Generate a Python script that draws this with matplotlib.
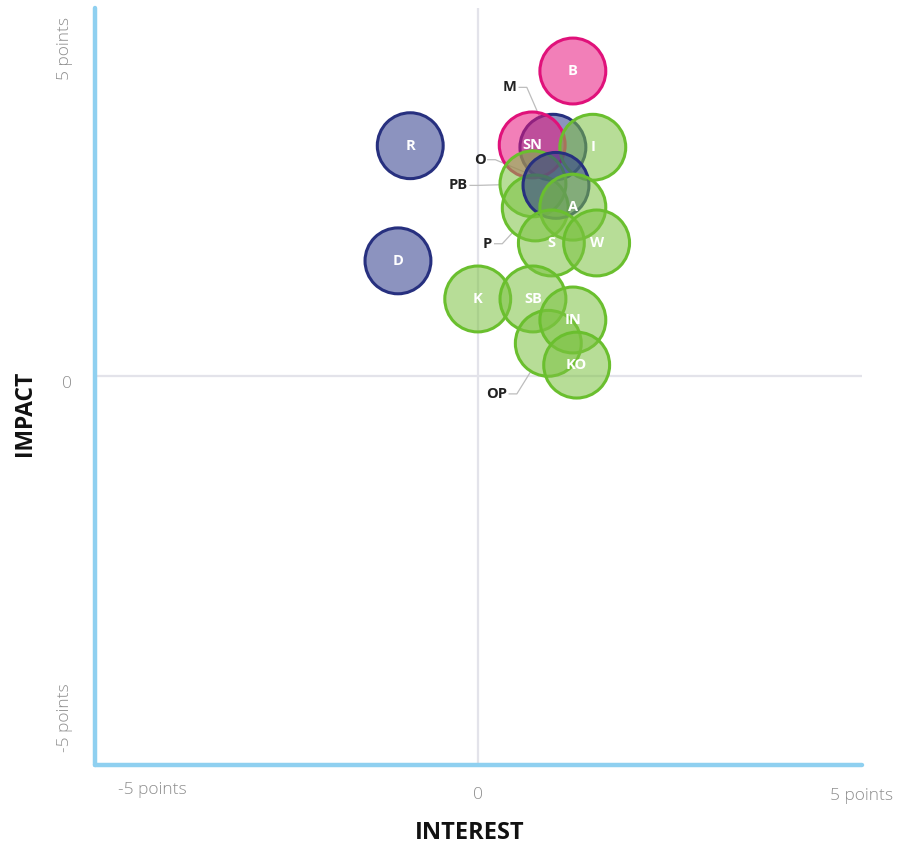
import numpy as np
import matplotlib
matplotlib.use("Agg")
import matplotlib.pyplot as plt

# bubble data (interest, impact)
names = ["R", "D", "B", "M", "SN", "I", "PB", "P", "O", "A", "S", "W", "K", "SB", "OP", "IN", "KO"]
interest = [-0.89, -1.05, 1.23, 0.97, 0.70, 1.49, 0.71, 0.74, 1.01, 1.23, 0.95, 1.54, -0.01, 0.71, 0.91, 1.23, 1.28]
impact = [2.96, 1.48, 3.92, 2.94, 2.97, 2.94, 2.47, 2.16, 2.45, 2.17, 1.71, 1.71, 0.99, 0.99, 0.42, 0.72, 0.14]
groups = ["navy", "navy", "pink", "navy", "pink", "green", "green", "green", "navy", "green",
          "green", "green", "green", "green", "green", "green", "green"]

# labels drawn outside the bubble with a leader line
outside = ["M", "O", "PB", "P", "OP"]

x_ticks = ["-5 points", "0", "5 points"]
y_ticks = ["-5 points", "0", "5 points"]

fills = {"green": "#7cc242", "navy": "#2e3a8c", "pink": "#e8167f"}
edges = {"green": "#6abf2e", "navy": "#27307f", "pink": "#e0117a"}

plt.rcParams['font.family'] = ['Open Sans', 'DejaVu Sans']

fig = plt.figure(figsize=(9.12, 8.47), dpi=100)
ax = fig.add_axes([95 / 912, 1 - 765 / 847, 767 / 912, 757 / 847])
ax.set_xlim(-5, 5)
ax.set_ylim(-5, 4.73)

# spines
for side in ["top", "right"]:
    ax.spines[side].set_visible(False)
for side in ["left", "bottom"]:
    ax.spines[side].set_color("#8fd0f0")
    ax.spines[side].set_linewidth(3.2)
    ax.spines[side].set_capstyle("round")
ax.set_xticks([])
ax.set_yticks([])

# zero lines
ax.axhline(0, color="#e3e3ea", lw=1.6, zorder=0)
ax.axvline(0, color="#e3e3ea", lw=1.6, zorder=0)

# leader lines for outside labels: label anchor = right edge of text
label_pos = {"M": (0.50, 3.71), "O": (0.09, 2.78), "PB": (-0.14, 2.45),
             "P": (0.18, 1.70), "OP": (0.37, -0.23)}
r = 0.43
for nm in outside:
    i = names.index(nm)
    cx, cy = interest[i], impact[i]
    lx, ly = label_pos[nm]
    sx, ex = lx + 0.03, lx + 0.13
    d = np.array([ex - cx, ly - cy])
    d = d / np.hypot(*d)
    px, py = cx + r * d[0], cy + r * d[1]
    ax.plot([sx, ex, px], [ly, ly, py], color="#bdbdbd", lw=0.9, zorder=1)
    ax.text(lx, ly, nm, ha="right", va="center", fontsize=10.5, fontweight="bold",
            color="#222222", zorder=1)

# bubbles
for i, nm in enumerate(names):
    g = groups[i]
    ax.scatter(interest[i], impact[i], s=2250, color=fills[g], alpha=0.55,
               edgecolors="none", zorder=2 + i * 0.01)
    ax.scatter(interest[i], impact[i], s=2250, facecolors="none",
               edgecolors=edges[g], linewidths=2.2, zorder=2 + i * 0.01)

for i, nm in enumerate(names):
    if nm in outside:
        continue
    ax.text(interest[i], impact[i], nm, ha="center", va="center", fontsize=10.5,
            fontweight="bold", color="white", zorder=5)

# custom tick labels
tick_kw = dict(fontsize=12.5, color="#8e8e8e", fontweight="light")
ax.text(0.075, -0.033, x_ticks[0], transform=ax.transAxes, ha="center", va="center", **tick_kw)
ax.text(0.5, -0.040, x_ticks[1], transform=ax.transAxes, ha="center", va="center", **tick_kw)
ax.text(0.999, -0.041, x_ticks[2], transform=ax.transAxes, ha="center", va="center", **tick_kw)
ax.text(-0.039, 0.062, y_ticks[0], transform=ax.transAxes, ha="center", va="center", rotation=90, **tick_kw)
ax.text(-0.036, 0.503, y_ticks[1], transform=ax.transAxes, ha="center", va="center", **tick_kw)
ax.text(-0.039, 0.947, y_ticks[2], transform=ax.transAxes, ha="center", va="center", rotation=90, **tick_kw)

# axis titles
fig.text(470 / 912, 1 - 833 / 847, "INTEREST", ha="center", va="center",
         fontsize=17, fontweight="bold", color="#111111")
fig.text(25 / 912, 1 - 413 / 847, "IMPACT", ha="center", va="center", rotation=90,
         fontsize=16.5, fontweight="bold", color="#111111")

fig.savefig("out.png", dpi=100)
